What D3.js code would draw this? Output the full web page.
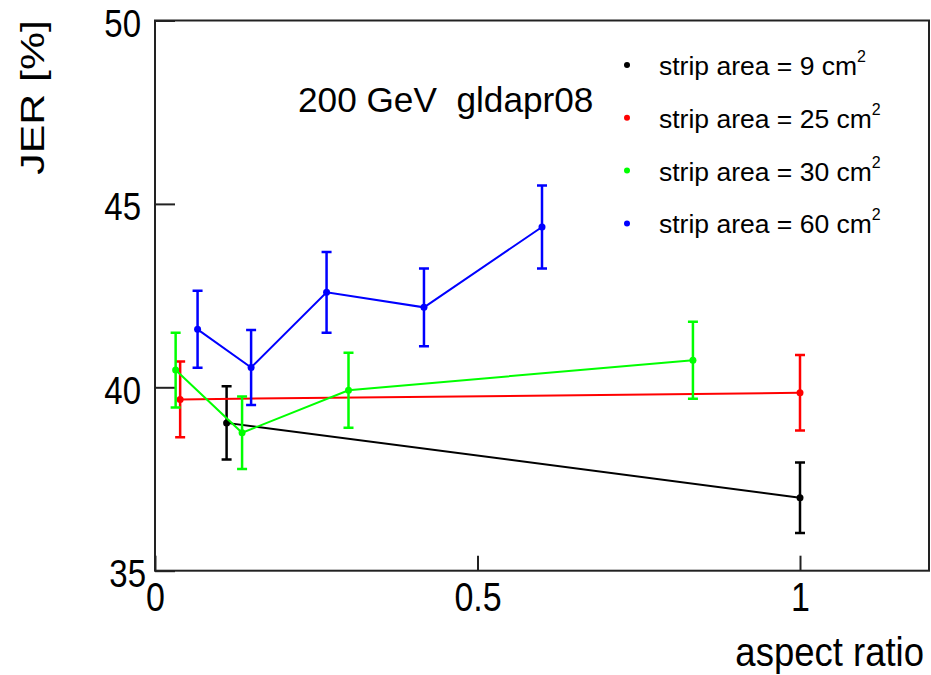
<!DOCTYPE html>
<html>
<head>
<meta charset="utf-8">
<script src="https://cdn.jsdelivr.net/npm/d3@7"></script>
<style>
  body { margin: 0; background: #fff; }
  text { font-family: "Liberation Sans", Arial, sans-serif; fill: #000; white-space: pre; }
</style>
</head>
<body>
<svg id="chart"></svg>
<script>
var width = 931, height = 675

// data: aspect ratio, JER [%], error
var areas = ["9", "25", "30", "60"]
var colours = ["#000000", "#ff0000", "#00ff00", "#0000ff"]

var ratio9 = [0.111, 1.0]
var jer9 = [39.03, 36.99]
var err9 = [1.0, 0.96]

var ratio25 = [0.039, 1.0]
var jer25 = [39.67, 39.85]
var err25 = [1.03, 1.03]

var ratio30 = [0.032, 0.135, 0.300, 0.834]
var jer30 = [40.47, 38.76, 39.92, 40.74]
var err30 = [1.02, 0.99, 1.02, 1.05]

var ratio60 = [0.066, 0.149, 0.266, 0.417, 0.600]
var jer60 = [41.58, 40.54, 42.59, 42.18, 44.37]
var err60 = [1.05, 1.02, 1.1, 1.06, 1.13]

var xTicks = [0, 0.5, 1]
var yTicks = [35, 40, 45, 50]

var series = [
    {area: areas[0], colour: colours[0], x: ratio9, y: jer9, e: err9},
    {area: areas[1], colour: colours[1], x: ratio25, y: jer25, e: err25},
    {area: areas[2], colour: colours[2], x: ratio30, y: jer30, e: err30},
    {area: areas[3], colour: colours[3], x: ratio60, y: jer60, e: err60}
]

var svg = d3.select("#chart")
    .attr("width", width)
    .attr("height", height)

var x = d3.scaleLinear().domain([0, 1.2]).range([155, 929])
var y = d3.scaleLinear().domain([35, 50]).range([570.7, 20.5])

// frame
svg.append("rect")
    .attr("x", x(0))
    .attr("y", y(50))
    .attr("width", x(1.2) - x(0))
    .attr("height", y(35) - y(50))
    .attr("fill", "none")
    .attr("stroke", "#222")
    .attr("stroke-width", 2)

var xAxis = svg.append("g")
    .attr("transform", "translate(0," + y(35) + ")")
    .call(d3.axisBottom(x).tickValues(xTicks).tickSize(-15).tickFormat(function(d) { return String(d) }))
xAxis.select(".domain").remove()
xAxis.selectAll("line").attr("stroke", "#222").attr("stroke-width", 2)
xAxis.selectAll("text")
    .attr("y", 0).attr("dy", null)
    .attr("transform", "translate(0,40) scale(1,1.2)")
    .attr("font-size", 34)

var yAxis = svg.append("g")
    .attr("transform", "translate(" + x(0) + ",0)")
    .call(d3.axisLeft(y).tickValues(yTicks).tickSize(-20))
yAxis.select(".domain").remove()
yAxis.selectAll("line").attr("stroke", "#222").attr("stroke-width", 2)
yAxis.selectAll("text")
    .attr("x", 0).attr("dy", null)
    .attr("transform", function(d) { return "translate(" + (d == 35 ? -9 : -14) + ",16) scale(1,1.15)" })
    .attr("font-size", 33)

// axis titles
svg.append("text")
    .attr("transform", "translate(924,666) scale(1,1.1)")
    .attr("text-anchor", "end")
    .attr("font-size", 36.5)
    .text("aspect ratio")

svg.append("text")
    .attr("transform", "translate(44,20) rotate(-90) scale(1.26,1)")
    .attr("text-anchor", "end")
    .attr("font-size", 34)
    .text("JER [%]")

svg.append("text")
    .attr("x", 298)
    .attr("y", 112)
    .attr("font-size", 35.2)
    .text("200 GeV  gldapr08")

// lines, error bars and points
var line = d3.line()
    .x(function(d) { return x(d[0]) })
    .y(function(d) { return y(d[1]) })

series.forEach(function(s) {
    var pts = s.x.map(function(v, i) { return [v, s.y[i], s.e[i]] })
    var g = svg.append("g")

    g.append("path")
        .datum(pts)
        .attr("d", line)
        .attr("fill", "none")
        .attr("stroke", s.colour)
        .attr("stroke-width", 2)

    g.selectAll(".bar")
        .data(pts)
        .enter()
        .append("path")
            .attr("d", function(d) {
                var cx = x(d[0]), top = y(d[1] + d[2]), bot = y(d[1] - d[2])
                return "M" + cx + "," + top + "V" + bot +
                    "M" + (cx - 5) + "," + top + "H" + (cx + 5) +
                    "M" + (cx - 5) + "," + bot + "H" + (cx + 5)
            })
            .attr("stroke", s.colour)
            .attr("stroke-width", 2.5)
            .attr("fill", "none")

    g.selectAll("circle")
        .data(pts)
        .enter()
        .append("circle")
            .attr("cx", function(d) { return x(d[0]) })
            .attr("cy", function(d) { return y(d[1]) })
            .attr("r", 3.5)
            .attr("fill", s.colour)
})

// legend
var legend = svg.append("g")
series.forEach(function(s, i) {
    var base = 75 + i * 52.8
    legend.append("circle")
        .attr("cx", 627)
        .attr("cy", base - 10)
        .attr("r", 3)
        .attr("fill", s.colour)
    var t = legend.append("text")
        .attr("x", 659)
        .attr("y", base)
        .attr("font-size", 26.5)
    t.append("tspan").text("strip area = " + s.area + " cm")
    t.append("tspan")
        .attr("font-size", 16)
        .attr("dy", -13)
        .text("2")
})
</script>
</body>
</html>
